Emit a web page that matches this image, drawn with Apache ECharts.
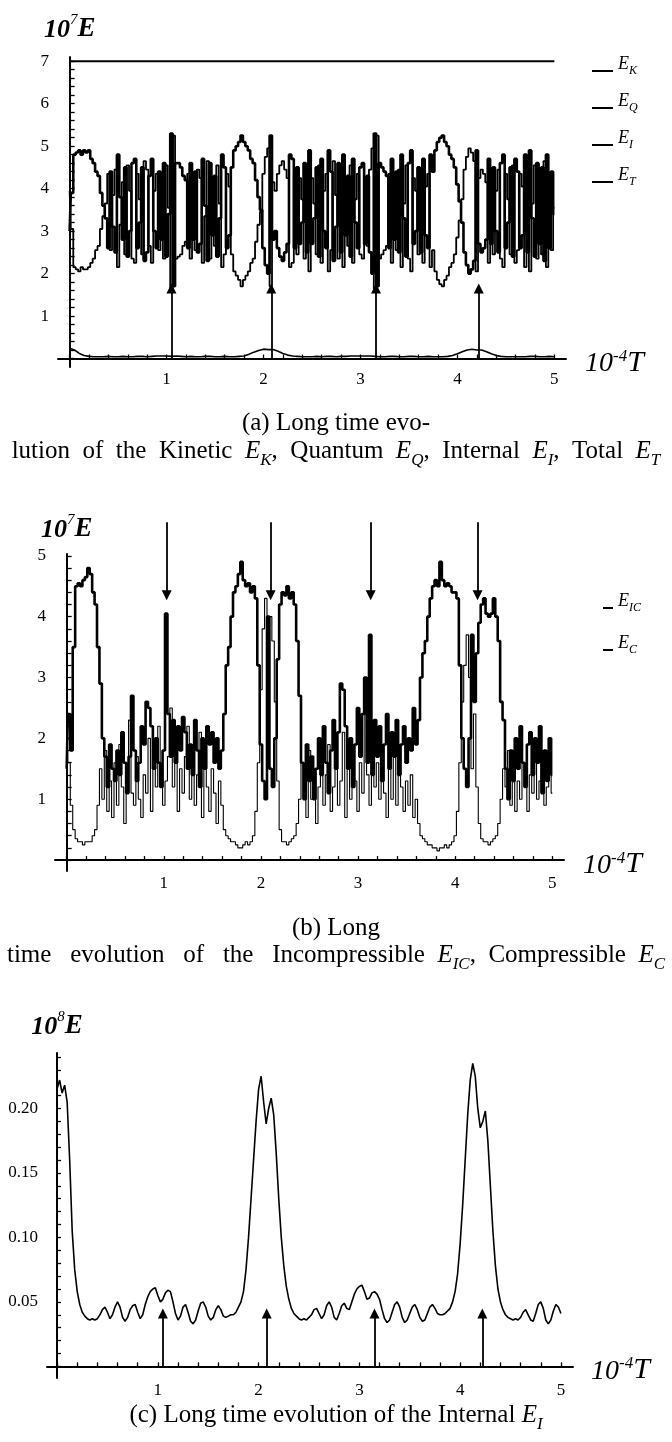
<!DOCTYPE html>
<html><head><meta charset="utf-8">
<script src="https://cdn.jsdelivr.net/npm/echarts@6/dist/echarts.min.js"></script>
<style>html,body{margin:0;padding:0;background:#fff}#c{width:672px;height:1442px}</style>
</head><body><div id="c"></div>
<script>
// ---------------- data ----------------
const dt = 0.025;          // sampling step of the dense curves (10^-4 T units)
const dtI = 0.05;          // sampling step of E_I in panel (a)
const xTickLabels = [1, 2, 3, 4, 5];
const yTickLabelsA = [1, 2, 3, 4, 5, 6, 7];
const yTickLabelsB = [1, 2, 3, 4, 5];
const yTickLabelsC = [0.05, 0.10, 0.15, 0.20];

// panel (a): total energy (constant)
const E_T = [[0, 7.0], [5.0, 7.0]];
// panel (a): quantum energy
const E_Q = [
  3.0,3.9,4.8,4.85,4.9,4.8,4.9,4.85,4.9,4.7,
  4.6,4.4,4.3,3.9,3.6,3.3,2.6,4.4,3.1,2.5,
  4.8,3.8,2.8,4.5,2.4,3.0,4.6,4.7,2.6,3.2,
  4.5,2.3,2.5,4.3,4.7,3.0,2.6,4.4,2.8,4.6,
  2.4,3.4,5.3,1.7,4.6,4.6,4.5,4.3,4.2,2.6,
  4.6,2.8,4.4,2.5,2.7,4.7,3.6,2.3,4.6,2.9,
  4.3,2.4,3.3,4.8,4.5,2.6,2.9,4.5,4.9,5.0,
  5.1,5.25,5.1,5.0,4.9,4.7,4.6,4.2,3.8,3.5,
  2.6,2.2,2.0,5.25,2.8,3.0,2.6,2.4,2.3,2.5,
  2.7,4.8,4.7,2.6,4.5,2.7,3.2,4.6,2.5,4.9,
  2.7,3.3,4.5,2.4,4.7,3.0,2.6,4.9,4.4,2.3,
  3.1,4.6,2.5,4.8,2.9,4.3,2.4,4.7,3.2,2.6,
  4.5,4.6,2.7,4.3,2.5,2.0,5.3,1.7,4.6,4.5,
  4.4,4.3,2.6,4.7,2.8,4.4,2.5,4.8,3.3,2.4,
  4.6,4.9,2.7,3.0,4.5,2.5,4.7,2.9,2.6,4.8,
  4.4,4.9,5.1,5.2,5.25,5.1,5.0,4.8,4.7,4.5,
  4.1,3.7,3.2,2.5,2.2,2.0,2.1,2.3,4.9,2.7,
  2.5,2.6,2.8,4.7,2.7,4.5,3.0,2.5,4.6,4.8,
  2.6,3.2,4.5,2.4,4.7,4.4,2.6,2.9,4.8,2.5,
  4.9,3.3,2.4,4.6,2.7,4.5,2.3,4.8,2.6,4.4,
  3.4
];
// panel (a): kinetic energy
const E_K = [
  3.95,3.05,2.15,2.1,2.05,2.15,2.1,2.1,2.15,2.25,
  2.35,2.55,2.65,3.05,3.35,3.65,4.35,2.55,3.85,4.45,
  2.15,3.15,4.15,2.45,4.55,3.95,2.35,2.25,4.35,3.75,
  2.45,4.65,4.45,2.65,2.25,3.95,4.35,2.55,4.15,2.35,
  4.55,3.55,1.65,5.25,2.35,2.4,2.45,2.65,2.75,4.35,
  2.35,4.15,2.55,4.45,4.25,2.25,3.35,4.65,2.35,4.05,
  2.65,4.55,3.65,2.15,2.45,4.35,4.05,2.45,2.05,1.95,
  1.85,1.7,1.85,1.95,2.05,2.25,2.35,2.75,3.15,3.45,
  4.35,4.75,4.95,1.7,4.15,3.95,4.35,4.55,4.65,4.45,
  4.25,2.15,2.25,4.35,2.45,4.25,3.75,2.35,4.45,2.05,
  4.25,3.65,2.45,4.55,2.25,3.95,4.35,2.05,2.55,4.65,
  3.85,2.35,4.45,2.15,4.05,2.65,4.55,2.25,3.75,4.35,
  2.45,2.35,4.25,2.65,4.45,4.95,1.65,5.25,2.35,2.45,
  2.55,2.65,4.35,2.25,4.15,2.55,4.45,2.15,3.65,4.55,
  2.35,2.05,4.25,3.95,2.45,4.45,2.25,4.05,4.35,2.15,
  2.55,2.05,1.85,1.75,1.7,1.85,1.95,2.15,2.25,2.45,
  2.85,3.25,3.75,4.45,4.75,4.95,4.85,4.65,2.05,4.25,
  4.45,4.35,4.15,2.25,4.25,2.45,3.95,4.45,2.35,2.15,
  4.35,3.75,2.45,4.55,2.25,2.55,4.35,4.05,2.15,4.45,
  2.05,3.65,4.55,2.35,4.25,2.45,4.65,2.15,4.35,2.55,
  3.55
];
// panel (a): internal energy (step dtI)
const E_I_a = [
  0.24,0.20,0.12,0.07,0.05,0.04,0.04,0.04,0.05,0.04,
  0.04,0.05,0.04,0.04,0.05,0.05,0.04,0.05,0.06,0.06,
  0.06,0.05,0.06,0.05,0.04,0.05,0.04,0.04,0.05,0.05,
  0.04,0.04,0.05,0.04,0.04,0.05,0.06,0.10,0.15,0.19,
  0.22,0.21,0.21,0.17,0.12,0.08,0.06,0.05,0.04,0.04,
  0.04,0.05,0.04,0.05,0.05,0.04,0.05,0.05,0.06,0.06,
  0.06,0.06,0.06,0.05,0.04,0.04,0.05,0.05,0.04,0.04,
  0.05,0.05,0.04,0.04,0.05,0.04,0.04,0.04,0.05,0.07,
  0.11,0.16,0.20,0.22,0.20,0.20,0.16,0.11,0.07,0.05,
  0.04,0.04,0.04,0.04,0.04,0.05,0.05,0.04,0.04,0.05,
  0.04
];
// panel (b): incompressible kinetic energy
const E_IC = [
  1.5,2.4,1.8,3.5,4.5,4.55,4.5,4.6,4.65,4.8,
  4.7,4.4,4.2,3.5,2.9,2.0,1.7,1.2,1.9,1.5,
  1.3,1.8,1.4,2.1,1.6,1.1,1.7,2.7,1.8,1.3,
  1.6,2.2,1.9,2.6,2.5,2.2,1.5,2.0,1.6,1.2,
  1.8,4.05,2.4,1.7,2.3,1.6,2.2,1.8,2.35,2.1,
  1.5,1.9,1.4,2.3,1.8,1.2,2.0,1.5,2.2,1.9,
  2.1,1.6,2.0,1.5,1.8,2.4,3.2,3.5,4.0,4.4,
  4.5,4.7,4.9,4.6,4.5,4.55,4.4,4.5,4.3,3.2,
  1.9,1.3,1.0,4.0,1.5,1.2,2.0,3.3,4.2,4.4,
  4.35,4.5,4.3,4.4,4.2,3.6,2.7,1.6,1.0,1.9,
  1.3,1.7,1.0,1.5,2.0,1.4,2.2,1.6,1.1,1.8,
  2.3,1.5,2.1,2.9,2.8,2.2,1.5,2.0,1.2,1.9,
  2.5,1.7,2.4,3.0,1.6,3.7,1.4,2.3,1.7,2.2,
  1.3,1.9,2.4,1.5,2.1,1.7,2.3,1.4,1.9,2.2,
  1.6,2.0,1.8,2.5,1.9,2.3,3.0,3.4,3.6,4.0,
  4.3,4.5,4.6,4.5,4.9,4.6,4.5,4.55,4.5,4.4,
  4.4,4.3,3.2,2.0,1.5,1.2,2.0,3.7,2.6,3.4,
  3.9,4.2,4.3,4.05,4.0,4.05,4.3,4.0,3.6,2.6,
  2.3,1.5,1.0,1.8,1.3,2.0,1.5,2.2,1.6,1.2,
  1.9,2.1,1.4,2.0,1.6,2.2,1.1,1.8,1.3,2.0,
  1.4
];
// panel (b): compressible kinetic energy
const E_C = [
  2.4,1.6,0.9,0.5,0.35,0.3,0.3,0.25,0.3,0.3,
  0.3,0.4,0.5,0.9,1.5,1.0,1.8,0.8,1.3,0.7,
  1.6,0.9,1.9,1.2,0.6,1.5,2.3,1.1,0.9,1.7,
  1.0,0.7,1.4,1.1,2.0,0.8,1.6,1.2,2.2,1.5,
  0.9,1.3,1.7,2.5,1.2,2.0,0.8,1.5,1.1,1.7,
  2.2,1.0,1.6,0.9,1.4,2.1,0.7,1.8,1.2,0.8,
  1.5,1.1,0.6,1.3,0.9,0.5,0.4,0.35,0.3,0.3,
  0.25,0.2,0.2,0.25,0.3,0.25,0.3,0.4,0.8,1.6,
  2.8,3.8,4.3,2.5,4.0,3.6,2.6,1.3,0.5,0.3,
  0.3,0.25,0.3,0.35,0.4,0.6,1.0,1.6,1.2,0.7,
  1.8,1.0,1.5,0.6,1.2,2.0,0.9,1.4,1.9,0.8,
  1.2,1.7,0.9,1.3,2.1,0.7,1.5,1.0,1.8,1.3,
  0.8,1.6,1.1,2.4,1.4,0.9,2.0,1.2,1.6,1.0,
  1.9,1.1,0.7,1.5,1.0,1.8,0.9,1.4,1.2,0.8,
  1.3,0.9,1.4,0.7,1.0,0.6,0.4,0.35,0.3,0.25,
  0.25,0.2,0.2,0.15,0.2,0.2,0.25,0.2,0.25,0.3,
  0.4,0.8,1.6,2.6,3.2,3.7,3.0,1.5,2.4,1.2,
  0.6,0.35,0.3,0.3,0.25,0.3,0.35,0.4,0.6,1.0,
  1.5,1.2,1.8,0.9,1.4,0.8,1.3,1.0,1.6,1.2,
  0.8,1.4,1.1,1.7,1.0,1.3,1.6,0.9,1.2,1.5,
  1.1
];
// panel (c): internal energy (10^8 E)
const E_I_c = [
  0.215,0.222,0.212,0.218,0.205,0.160,0.105,0.075,0.058,0.048,
  0.042,0.039,0.037,0.036,0.037,0.036,0.037,0.040,0.044,0.046,
  0.042,0.037,0.040,0.046,0.050,0.046,0.038,0.035,0.038,0.044,
  0.047,0.048,0.042,0.037,0.040,0.048,0.054,0.058,0.060,0.061,
  0.055,0.050,0.052,0.057,0.059,0.058,0.050,0.041,0.036,0.039,
  0.046,0.048,0.042,0.035,0.033,0.036,0.043,0.049,0.050,0.046,
  0.039,0.036,0.038,0.044,0.047,0.044,0.039,0.038,0.039,0.040,
  0.040,0.042,0.046,0.050,0.058,0.075,0.100,0.130,0.160,0.190,
  0.215,0.225,0.205,0.188,0.200,0.208,0.195,0.165,0.130,0.100,
  0.078,0.062,0.052,0.045,0.041,0.039,0.037,0.036,0.037,0.036,
  0.038,0.040,0.044,0.045,0.041,0.037,0.040,0.047,0.050,0.046,
  0.038,0.036,0.041,0.047,0.049,0.045,0.044,0.050,0.056,0.060,
  0.062,0.063,0.058,0.052,0.053,0.057,0.058,0.056,0.052,0.044,
  0.037,0.034,0.036,0.042,0.048,0.050,0.046,0.038,0.034,0.036,
  0.041,0.046,0.048,0.044,0.038,0.035,0.036,0.041,0.046,0.048,
  0.045,0.041,0.040,0.040,0.041,0.043,0.045,0.050,0.058,0.072,
  0.095,0.125,0.160,0.195,0.222,0.235,0.225,0.200,0.185,0.190,
  0.198,0.175,0.140,0.105,0.078,0.060,0.050,0.044,0.040,0.038,
  0.037,0.036,0.037,0.036,0.038,0.042,0.044,0.040,0.036,0.035,
  0.041,0.048,0.050,0.045,0.036,0.033,0.036,0.043,0.048,0.046,
  0.041
];
// arrows: time positions and their vertical extents (data units)
const arrowsA = [1.05, 2.08, 3.16, 4.22];
const arrowSpanA = [0, 1.65];
const arrowsB = [1.03, 2.10, 3.13, 4.23];
const arrowSpanB = [5.55, 4.35];
const arrowsC = [1.05, 2.08, 3.15, 4.22];
const arrowSpanC = [0, 0.041];

// ---------------- helpers ----------------
const SERIF = 'Liberation Serif';
const pairs = (arr, step) => arr.map((v, i) => [+(i * step).toFixed(3), v]);
function range(a, b, s, d) { const o = []; for (let k = 0; a + k * s <= b + 1e-9; k++) o.push(+(a + k * s).toFixed(d)); return o; }

const nameRichY = {
  n: {fontFamily: SERIF, fontStyle: 'italic', fontWeight: 'bold', fontSize: 26, lineHeight: 30, verticalAlign: 'bottom', color: '#000'},
  s: {fontFamily: SERIF, fontStyle: 'italic', fontWeight: 'normal', fontSize: 15, lineHeight: 16, verticalAlign: 'top', color: '#000'},
  e: {fontFamily: SERIF, fontStyle: 'italic', fontWeight: 'bold', fontSize: 27, lineHeight: 30, verticalAlign: 'bottom', color: '#000'}
};
const nameRichX = {
  n: {fontFamily: SERIF, fontStyle: 'italic', fontWeight: 'normal', fontSize: 28, lineHeight: 30, verticalAlign: 'bottom', color: '#000'},
  s: {fontFamily: SERIF, fontStyle: 'italic', fontWeight: 'normal', fontSize: 17, lineHeight: 17, verticalAlign: 'top', color: '#000'},
  t: {fontFamily: SERIF, fontStyle: 'italic', fontWeight: 'normal', fontSize: 30, lineHeight: 30, verticalAlign: 'bottom', color: '#000'}
};
const capRich = {
  r: {fontFamily: SERIF, fontWeight: 'normal', fontSize: 25, lineHeight: 30, verticalAlign: 'top', color: '#000'},
  i: {fontFamily: SERIF, fontStyle: 'italic', fontWeight: 'normal', fontSize: 25, lineHeight: 30, verticalAlign: 'top', color: '#000'},
  s: {fontFamily: SERIF, fontStyle: 'italic', fontWeight: 'normal', fontSize: 17, lineHeight: 17, verticalAlign: 'bottom', color: '#000'}
};
const legRich = {
  e: {fontFamily: SERIF, fontStyle: 'italic', fontWeight: 'normal', fontSize: 18, lineHeight: 22, verticalAlign: 'top', color: '#000'},
  s: {fontFamily: SERIF, fontStyle: 'italic', fontWeight: 'normal', fontSize: 12, lineHeight: 12, verticalAlign: 'bottom', color: '#000'}
};
const legSub = {EK: 'K', EQ: 'Q', EI: 'I', ET: 'T', EIC: 'IC', EC: 'C'};

function xAxis(grid, min, max, ticks, name, nameGap, namePad) {
  return {
    gridIndex: grid, type: 'value', min, max,
    axisLine: {onZero: true, lineStyle: {color: '#000', width: 2}},
    axisTick: {show: true, inside: true, length: 4, customValues: ticks, lineStyle: {color: '#000', width: 1.3}},
    axisLabel: {customValues: xTickLabels, margin: 4, color: '#000', fontFamily: SERIF, fontSize: 17, formatter: v => String(v)},
    splitLine: {show: false},
    name, nameLocation: 'end', nameGap,
    nameTextStyle: {padding: [namePad, 0, 0, 0], rich: nameRichX}
  };
}
function yAxis(grid, min, max, ticks, labels, fmt, tickLen, name, nameGap) {
  return {
    gridIndex: grid, type: 'value', min, max,
    axisLine: {onZero: true, lineStyle: {color: '#000', width: 2}},
    axisTick: {show: true, inside: true, length: tickLen, customValues: ticks, lineStyle: {color: '#000', width: 1.3}},
    axisLabel: {customValues: labels, margin: 9, color: '#000', fontFamily: SERIF, fontSize: 17, formatter: fmt},
    splitLine: {show: false},
    name, nameLocation: 'end', nameGap,
    nameTextStyle: {rich: nameRichY}
  };
}
function lineSeries(name, xi, data, width, step) {
  return {name, type: 'line', xAxisIndex: xi, yAxisIndex: xi, data, symbol: 'none', silent: true, step: step || false,
    lineStyle: {color: '#000', width}, itemStyle: {color: '#000'}, animation: false};
}
function arrowSeries(xi, xs, span) {
  return {type: 'lines', coordinateSystem: 'cartesian2d', xAxisIndex: xi, yAxisIndex: xi, clip: false, silent: true,
    symbol: ['none', 'triangle'], symbolSize: 10, z: 5,
    lineStyle: {color: '#000', width: 1.8, opacity: 1, curveness: 0},
    data: xs.map(x => ({coords: [[x, span[0]], [x, span[1]]]}))};
}
function legendItem(name, left, top, w) {
  return {data: [name], orient: 'vertical', left, top, padding: 0, icon: 'rect', itemWidth: w, itemHeight: 2,
    selectedMode: false, formatter: n => `{e|E}{s|${legSub[n]}}`,
    textStyle: {padding: [0, 0, 10, 0], rich: legRich}};
}

const chart = echarts.init(document.getElementById('c'), null, {renderer: 'canvas'});
chart.setOption({
  backgroundColor: '#fff',
  animation: false,
  title: [
    {text: '{r|(a) Long time evo-}', left: 'center', top: 411, padding: 0, textStyle: {rich: capRich}},
    {text: '{r|lution  of  the  Kinetic  }{i|E}{s|K}{r|,  Quantum  }{i|E}{s|Q}{r|,  Internal  }{i|E}{s|I}{r|,  Total  }{i|E}{s|T}', left: 'center', top: 439, padding: 0, textStyle: {rich: capRich}},
    {text: '{r|(b) Long}', left: 'center', top: 916, padding: 0, textStyle: {rich: capRich}},
    {text: '{r|time   evolution   of   the   Incompressible  }{i|E}{s|IC}{r|,  Compressible  }{i|E}{s|C}', left: 'center', top: 943, padding: 0, textStyle: {rich: capRich}},
    {text: '{r|(c) Long time evolution of the Internal }{i|E}{s|I}', left: 'center', top: 1403, padding: 0, textStyle: {rich: capRich}}
  ],
  legend: [
    legendItem('EK', 592, 55, 21),
    legendItem('EQ', 592, 92, 21),
    legendItem('EI', 592, 129, 21),
    legendItem('ET', 592, 166, 21),
    legendItem('EIC', 603, 592, 10),
    legendItem('EC', 603, 634, 10)
  ],
  grid: [
    {left: 58, top: 57, width: 508, height: 310, outerBoundsMode: 'none', containLabel: false},
    {left: 55, top: 554, width: 509, height: 317, outerBoundsMode: 'none', containLabel: false},
    {left: 47, top: 1053, width: 526, height: 325, outerBoundsMode: 'none', containLabel: false}
  ],
  xAxis: [
    xAxis(0, -0.12, 5.12, range(0, 5, 0.2, 1), '{n|10}{s|-4}{t|T}', 19, 9),
    xAxis(1, -0.12, 5.12, range(0, 5, 0.2, 1), '{n|10}{s|-4}{t|T}', 19, 9),
    xAxis(2, -0.10, 5.12, range(0, 5, 0.2, 1), '{n|10}{s|-4}{t|T}', 18, 8)
  ],
  yAxis: [
    yAxis(0, -0.2, 7.1, range(0, 7, 0.2, 1), yTickLabelsA, v => String(v), 5, '{n|10}{s|7}{e|E}', 14),
    yAxis(1, -0.18, 5.03, range(0, 5, 0.2, 1), yTickLabelsB, v => String(v), 5, '{n|10}{s|7}{e|E}', 11),
    yAxis(2, -0.009, 0.243, range(0, 0.24, 0.01, 2), yTickLabelsC, v => v.toFixed(2), 4, '{n|10}{s|8}{e|E}', 13)
  ],
  series: [
    lineSeries('ET', 0, E_T, 2.2),
    lineSeries('EK', 0, pairs(E_K, dt), 1.8, 'middle'),
    lineSeries('EQ', 0, pairs(E_Q, dt), 2.6, 'middle'),
    lineSeries('EI', 0, pairs(E_I_a, dtI), 1.6),
    arrowSeries(0, arrowsA, arrowSpanA),
    lineSeries('EC', 1, pairs(E_C, dt), 1.1, 'middle'),
    lineSeries('EIC', 1, pairs(E_IC, dt), 2.6, 'middle'),
    arrowSeries(1, arrowsB, arrowSpanB),
    lineSeries('EI8', 2, pairs(E_I_c, dt), 1.6),
    arrowSeries(2, arrowsC, arrowSpanC)
  ]
});
</script></body></html>
